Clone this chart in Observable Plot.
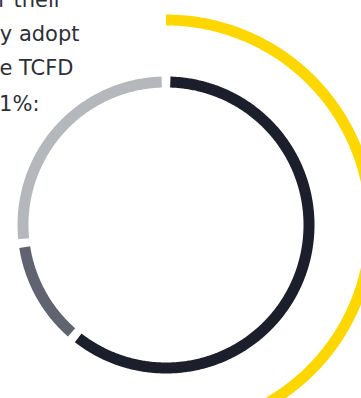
<!DOCTYPE html>
<html>
<head>
<meta charset="utf-8">
<script src="https://cdn.jsdelivr.net/npm/d3@7"></script>
<script src="https://cdn.jsdelivr.net/npm/@observablehq/plot@0.6"></script>
<style>
  html, body { margin: 0; padding: 0; background: #fff; overflow: hidden; }
  #chart { position: relative; width: 361px; height: 398px; overflow: hidden; }
</style>
</head>
<body>
<div id="chart"></div>
<script>
// ---- data ----
const textLines = ["r their", "y adopt", "e TCFD", "61%:"];
const innerCategories = ["Fully adopt", "Partially adopt", "Not adopt"];
const innerValues = [61, 12, 27];
const innerColors = ["#1b1e2b", "#5f6470", "#b4b7bb"];
const outerCategories = ["Highlight"];
const outerValues = [50];
const outerColors = ["#ffd700"];

// ---- geometry (layout) ----
const W = 361, H = 398;
const cx = 165.5, cy = 224.5;
const rInner = 143, rOuter = 205;
const padPx = 4.3; // half-gap in px along the arc

function arcPoints(categories, values, radius, pad, total) {
  const pts = [];
  let acc = 0;
  categories.forEach((c, i) => {
    const a0 = acc / total * 2 * Math.PI + (pad ? padPx / radius : 0);
    acc += values[i];
    const a1 = acc / total * 2 * Math.PI - (pad ? padPx / radius : 0);
    const n = Math.max(2, Math.ceil((a1 - a0) / (Math.PI / 360)));
    for (let k = 0; k <= n; k++) {
      const a = a0 + (a1 - a0) * k / n;
      pts.push({cat: c, x: radius * Math.sin(a), y: radius * Math.cos(a)});
    }
  });
  return pts;
}

const innerPts = arcPoints(innerCategories, innerValues, rInner, true, 100);
const outerPts = arcPoints(outerCategories, outerValues, rOuter, false, 100);

const textStyle = {fontSize: 21, fill: "#2e2e38", fontFamily: "'DejaVu Sans', sans-serif", textAnchor: "end", lineAnchor: "bottom", frameAnchor: "top-left"};
const textLayout = [[62, 6], [79, 40], [73, 74.5], [39, 110]];

const plot = Plot.plot({
  width: W,
  height: H,
  margin: 0,
  style: {background: "transparent", overflow: "hidden"},
  x: {domain: [-cx, W - cx], range: [0, W], axis: null},
  y: {domain: [cy, cy - H], range: [0, H], axis: null},
  color: {domain: [...innerCategories, ...outerCategories], range: [...innerColors, ...outerColors]},
  marks: [
    Plot.line(outerPts, {x: "x", y: "y", z: "cat", stroke: "cat", strokeWidth: 11, strokeLinecap: "butt", curve: "linear"}),
    Plot.line(innerPts, {x: "x", y: "y", z: "cat", stroke: "cat", strokeWidth: 11, strokeLinecap: "butt", curve: "linear"}),
    ...textLines.map((t, i) => Plot.text([t], {text: d => d, dx: textLayout[i][0], dy: textLayout[i][1], ...textStyle}))
  ]
});
document.getElementById("chart").appendChild(plot);
</script>
</body>
</html>
